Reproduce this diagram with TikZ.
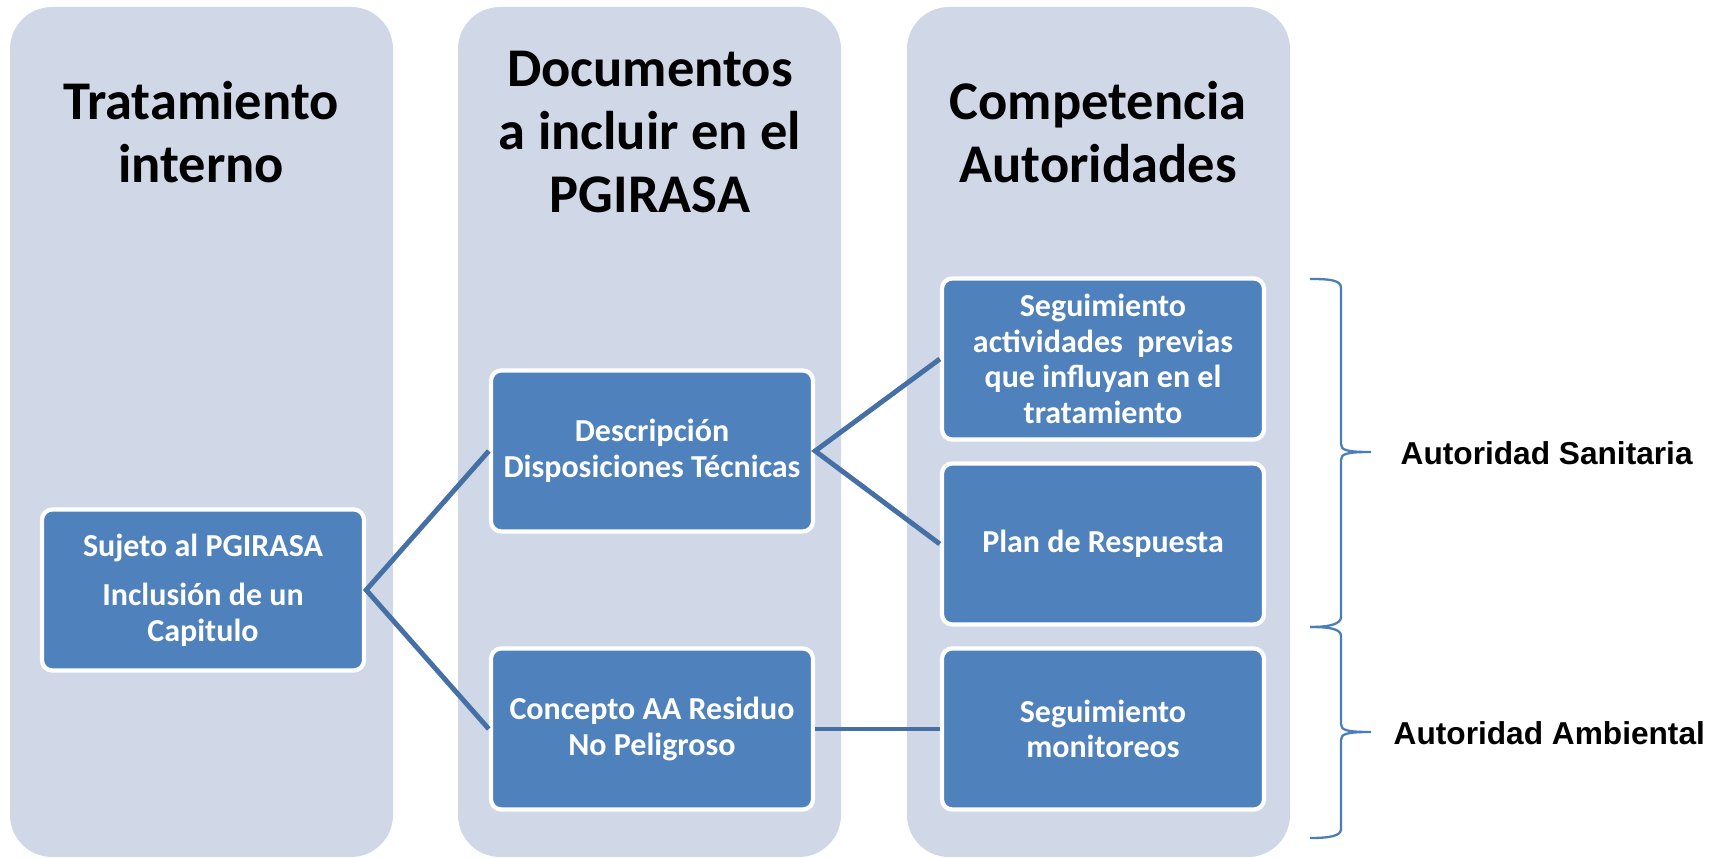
\documentclass[tikz,border=0pt]{standalone}
\usepackage{fontspec}
\setmainfont{Carlito}
\newfontfamily\arialfont{Liberation Sans}
\definecolor{colbg}{RGB}{208,216,232}
\definecolor{boxblue}{RGB}{79,129,189}
\definecolor{linkblue}{RGB}{68,112,166}
\definecolor{braceblue}{RGB}{74,126,187}
\tikzset{
  col/.style={fill=colbg, rounded corners=0.42cm},
  coltitle/.style={font=\bfseries\fontsize{15.5}{17.9}\selectfont, align=center, text=black, inner sep=0pt},
  bluebox/.style={draw=white, line width=1.2pt, fill=boxblue, rounded corners=3pt,
    minimum width=3.22cm, minimum height=1.61cm, text=white, align=center,
    font=\bfseries\fontsize{9.1}{10.1}\selectfont, inner sep=2pt},
  link/.style={draw=linkblue, line width=1.4pt},
  bracepath/.style={draw=braceblue, line width=0.65pt},
  authlabel/.style={font=\arialfont\bfseries\fontsize{9}{10.8}\selectfont, anchor=west, inner sep=0pt, text=black}
}
\begin{document}
\begin{tikzpicture}[x=0.01cm, y=-0.01cm]
\useasboundingbox (0,0) rectangle (1717,858);
\clip (0,0) rectangle (1717,858);
% columns
\path[col] (10,7) rectangle (393,857);
\path[col] (458,7) rectangle (841,857);
\path[col] (907,7) rectangle (1290,857);
% titles
\node[coltitle] (t1) at (201,132) {Tratamiento\\interno};
\node[coltitle] (t2) at (650,132) {Documentos\\a incluir en el\\PGIRASA};
\node[coltitle] (t3) at (1098,132) {Competencia\\Autoridades};
% boxes
\node[bluebox] (suj) at (203,590) {Sujeto al PGIRASA\\[4pt]Inclusión de un\\Capitulo};
\node[bluebox] (desc) at (652,451) {Descripción\\Disposiciones Técnicas};
\node[bluebox] (conc) at (652,729) {Concepto AA Residuo\\No Peligroso};
\node[bluebox] (seg1) at (1103,359) {Seguimiento\\actividades\ \ previas\\que influyan en el\\tratamiento};
\node[bluebox] (plan) at (1103,544) {Plan de Respuesta};
\node[bluebox] (seg2) at (1103,729) {Seguimiento\\monitoreos};
% connectors
\draw[link] (desc.west) -- (suj.east) -- (conc.west);
\draw[link] (seg1.west) -- (desc.east) -- (plan.west);
\draw[link] (conc.east) -- (seg2.west);
% braces
\coordinate (b1top) at (1310,279);
\coordinate (b1tip) at (1371,452);
\coordinate (b1bot) at (1310,627);
\coordinate (b2tip) at (1371,732);
\coordinate (b2bot) at (1310,838);
\draw[bracepath] (b1top) .. controls (1330,279) and (1341,280) .. (1341,288)
  -- (1341,444) .. controls (1341,450) and (1346,452) .. (b1tip)
  .. controls (1346,452) and (1341,454) .. (1341,460)
  -- (1341,617) .. controls (1341,624) and (1330,627) .. (b1bot);
\draw[bracepath] (b1bot) .. controls (1330,627) and (1341,629) .. (1341,636)
  -- (1341,724) .. controls (1341,730) and (1346,732) .. (b2tip)
  .. controls (1346,732) and (1341,734) .. (1341,740)
  -- (1341,829) .. controls (1341,836) and (1330,838) .. (b2bot);
% labels
\node[authlabel] (lsan) at (1400,453) {Autoridad Sanitaria};
\node[authlabel] (lamb) at (1393,733) {Autoridad Ambiental};
\end{tikzpicture}
\end{document}
